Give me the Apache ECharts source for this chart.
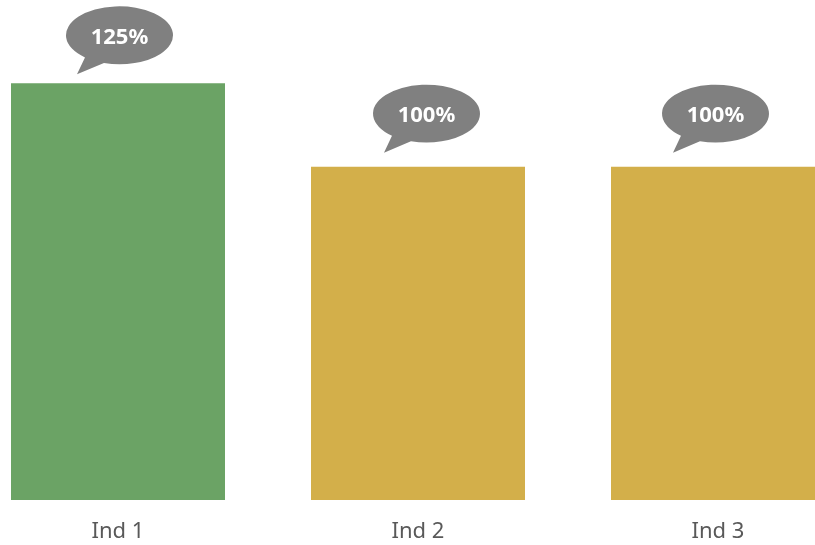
<!DOCTYPE html>
<html>
<head>
<meta charset="utf-8">
<script src="https://cdn.jsdelivr.net/npm/echarts@6/dist/echarts.min.js"></script>
<style>
html,body{margin:0;padding:0;background:#fff;overflow:hidden;width:815px;height:545px}
#c{position:absolute;left:-32px;top:0;width:900px;height:545px}
</style>
</head>
<body>
<div id="c"></div>
<script>
var categories = ['Ind 1', 'Ind 2', 'Ind 3'];
var values = [125, 100, 100];
var barColors = ['#6ba365', '#d3af4a', '#d3af4a'];

var bubblePath = 'path://M38,55.8 L11,67 L19,50.3 A53.5,28.5 0 1,1 38,55.8 Z';
var bubbleOffsets = [[1.5, -43], [8.5, -48], [-2.5, -48]];

var chart = echarts.init(document.getElementById('c'), null, {renderer: 'canvas'});
chart.setOption({
  animation: false,
  backgroundColor: '#ffffff',
  grid: {left: 0, right: 0, top: 0, bottom: 45, containLabel: false},
  xAxis: {
    type: 'category',
    data: categories,
    axisLine: {show: false},
    axisTick: {show: false},
    splitLine: {show: false},
    axisLabel: {color: '#595959', fontSize: 22, fontFamily: 'Noto Sans', margin: 21}
  },
  yAxis: {
    type: 'value', min: 0, max: 150, show: false
  },
  series: [
    {
      type: 'bar',
      barWidth: 214,
      data: values.map(function (v, i) { return {value: v, itemStyle: {color: barColors[i]}}; }),
      z: 2
    },
    {
      type: 'scatter',
      data: values.map(function (v, i) { return {value: v, symbolOffset: bubbleOffsets[i]}; }),
      symbol: bubblePath,
      symbolSize: [107, 68],
      itemStyle: {color: '#808080', opacity: 1},
      label: {
        show: true,
        position: 'inside',
        offset: [0, -3],
        color: '#ffffff',
        fontWeight: 'bold',
        fontSize: 22,
        fontFamily: 'Noto Sans',
        formatter: function (p) { return p.value + '%'; }
      },
      z: 3
    }
  ]
});
</script>
</body>
</html>
